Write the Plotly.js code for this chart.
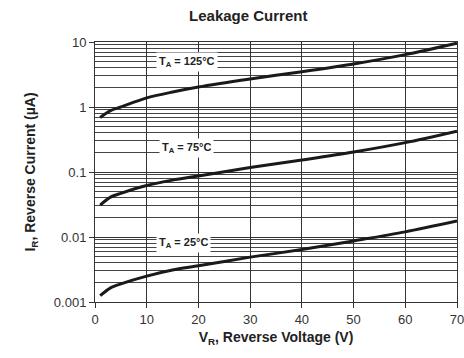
<!DOCTYPE html>
<html><head><meta charset="utf-8">
<script src="https://cdn.plot.ly/plotly-3.0.1.min.js"></script>
<style>html,body{margin:0;padding:0;background:#fff}#chart{width:464px;height:358px}</style>
</head><body><div id="chart"></div>
<script>
const voltage = [1, 3, 5, 10, 15, 20, 30, 40, 50, 60, 70];
const current125 = [0.69, 0.88, 1.0, 1.38, 1.7, 2.03, 2.7, 3.5, 4.6, 6.4, 9.6];
const current75 = [0.031, 0.041, 0.047, 0.062, 0.075, 0.087, 0.117, 0.153, 0.203, 0.283, 0.425];
const current25 = [0.00125, 0.00165, 0.0019, 0.0025, 0.0031, 0.0036, 0.0049, 0.0064, 0.0087, 0.012, 0.0176];
const labels = ["T<sub>A</sub> = 125°C", "T<sub>A</sub> = 75°C", "T<sub>A</sub> = 25°C"];
const labelX = [17.7, 17.7, 17.2];
const labelY = [4.9, 0.234, 0.0081];
const yTickVals = [0.001, 0.01, 0.1, 1, 10];
const yTickText = ["0.001", "0.01", "0.1", "1", "10"];
const xTickVals = [0, 10, 20, 30, 40, 50, 60, 70];

const decades = [0.001, 0.01, 0.1, 1];
const minorVals = [];
decades.forEach(d => { for (let k = 2; k <= 9; k++) minorVals.push(d * k); });

const lineStyle = {color: '#1a1a1a', width: 3, shape: 'spline', smoothing: 0.8};
const traces = [current125, current75, current25].map(c => ({
  x: voltage, y: c, mode: 'lines', line: lineStyle, hoverinfo: 'skip', showlegend: false
}));

const font = {family: 'Liberation Sans, Arial, sans-serif'};
const layout = {
  width: 464, height: 358,
  margin: {l: 95, r: 7, t: 42, b: 56},
  paper_bgcolor: '#fff', plot_bgcolor: '#fff',
  font: {family: font.family, color: '#333', size: 13},
  title: {text: '<b>Leakage Current</b>', x: 0.535, xanchor: 'center', y: 0.955, yanchor: 'middle',
          font: {family: font.family, size: 15, color: '#222'}},
  xaxis: {
    range: [0, 70], tickvals: xTickVals, showgrid: true, gridcolor: '#333', gridwidth: 1,
    ticks: 'outside', ticklen: 5, tickcolor: '#333', showline: true, linecolor: '#333', mirror: true,
    zeroline: false, tickfont: {size: 13, color: '#333'}, ticklabeloverflow: 'allow', automargin: false,
    title: {text: '<b>V<sub>R</sub>, Reverse Voltage (V)</b>', standoff: 6, font: {size: 14, color: '#222'}}
  },
  yaxis: {
    type: 'log', range: [-3, 1], tickvals: yTickVals, ticktext: yTickText,
    showgrid: true, gridcolor: '#333', gridwidth: 1,
    ticks: 'outside', ticklen: 5, tickcolor: '#333', showline: true, linecolor: '#333', mirror: true,
    zeroline: false, tickfont: {size: 13, color: '#333'},
    minor: {tickvals: minorVals, showgrid: true, gridcolor: '#444', gridwidth: 1, ticks: ''},
    title: {text: '<b>I<sub>R</sub>, Reverse Current (µA)</b>', standoff: 14, font: {size: 14, color: '#222'}}
  },
  annotations: labels.map((t, i) => ({
    x: labelX[i], y: Math.log10(labelY[i]), xref: 'x', yref: 'y',
    text: '<b>' + t + '</b>', showarrow: false, bgcolor: '#fff', borderpad: 2,
    font: {family: font.family, size: 11, color: '#222'}
  }))
};
Plotly.newPlot('chart', traces, layout, {displayModeBar: false, staticPlot: true});
</script></body></html>
